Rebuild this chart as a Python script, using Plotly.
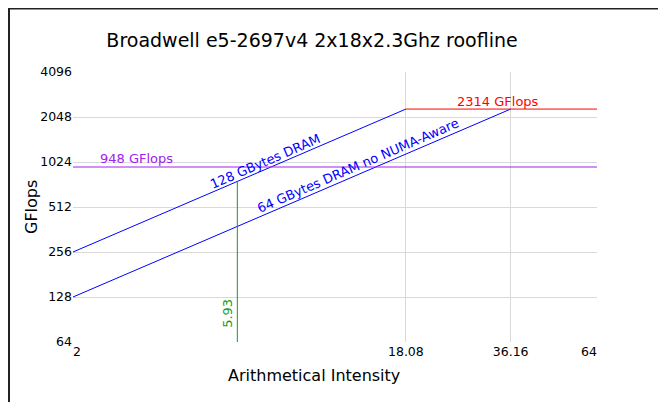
import math
import plotly.graph_objects as go

# ---- data ----
NB = "\u00a0"
x_ticks = [2, 18.08, 36.16, 64]
x_tick_labels = [NB * 2 + "2", "18.08", "36.16", "64" + NB * 4]
y_ticks = [64, 128, 256, 512, 1024, 2048, 4096]
y_tick_labels = ["64", "128", "256", "512", "1024", "2048", "4096"]

peak_gflops = 2314
simd_gflops = 948
bw_numa = 128          # GBytes/s DRAM
bw_no_numa = 64        # GBytes/s DRAM no NUMA-aware
ridge_numa = 18.08
ridge_no_numa = 36.16
ai_point = 5.93
ai_min, ai_max = 2, 64
gf_min, gf_max = 64, 4096

# page has an 8px body margin; figure coordinates = page coordinates - 8
OFF = 8
W, H = 658, 394
L, T = 73 - OFF, 72 - OFF
pw, ph = 524, 270
R, B = W - L - pw, H - T - ph

def px(xp):
    return (xp - OFF - L) / pw

def py(yp):
    return 1 - (yp - OFF - T) / ph

GREEN = "#169a16"
PURPLE = "#a020f0"

fig = go.Figure()
fig.add_trace(go.Scatter(x=[ai_min, ridge_numa], y=[bw_numa * ai_min, bw_numa * ridge_numa],
                         mode="lines", line=dict(color="blue", width=1), hoverinfo="skip"))
fig.add_trace(go.Scatter(x=[ai_min, ridge_no_numa], y=[bw_no_numa * ai_min, bw_no_numa * ridge_no_numa],
                         mode="lines", line=dict(color="blue", width=1), hoverinfo="skip"))
fig.add_trace(go.Scatter(x=[ridge_numa, ai_max], y=[peak_gflops, peak_gflops],
                         mode="lines", line=dict(color="red", width=1), hoverinfo="skip"))
fig.add_trace(go.Scatter(x=[ai_min, ai_max], y=[simd_gflops, simd_gflops],
                         mode="lines", line=dict(color=PURPLE, width=1), hoverinfo="skip"))
fig.add_trace(go.Scatter(x=[ai_point, ai_point], y=[gf_min, bw_numa * ai_point],
                         mode="lines", line=dict(color=GREEN, width=1), hoverinfo="skip"))

lx = math.log10
font = "DejaVu Sans"
ann = [
    dict(x=lx(2.36), y=lx(simd_gflops), text="948 GFlops", font=dict(color=PURPLE, size=13),
         xanchor="left", yanchor="bottom", yshift=-1),
    dict(x=lx(33.3), y=lx(peak_gflops), text="2314 GFlops", font=dict(color="red", size=13),
         xanchor="center", yanchor="bottom", yshift=-2),
    dict(x=lx(7.26), y=lx(bw_numa * 7.26), text="128 GBytes DRAM", font=dict(color="blue", size=13),
         textangle=-23.4, xanchor="center", yanchor="middle", xshift=-3, yshift=7),
    dict(x=lx(13.44), y=lx(bw_no_numa * 13.44), text="64 GBytes DRAM no NUMA-Aware", font=dict(color="blue", size=13),
         textangle=-23.4, xanchor="center", yanchor="middle", xshift=-3, yshift=8),
    dict(x=lx(ai_point), y=lx(100), text="5.93", font=dict(color=GREEN, size=13),
         textangle=-90, xanchor="right", yanchor="middle", xshift=-1),
]
for a in ann:
    a.update(xref="x", yref="y", showarrow=False)
    fig.add_annotation(**a)

fig.add_annotation(xref="paper", yref="paper", x=px(314), y=py(375), text="Arithmetical Intensity",
                   showarrow=False, font=dict(size=16, color="black"), xanchor="center", yanchor="middle")
fig.add_annotation(xref="paper", yref="paper", x=px(31), y=py(207), text="GFlops", textangle=-90,
                   showarrow=False, font=dict(size=16, color="black"), xanchor="center", yanchor="middle")

fig.add_shape(type="rect", xref="paper", yref="paper", x0=px(9), x1=px(660.5), y0=py(430), y1=py(8.5),
              line=dict(color="#222", width=2), fillcolor="rgba(0,0,0,0)", layer="below")

fig.update_layout(
    width=W, height=H,
    margin=dict(l=L, r=R, t=T, b=B),
    paper_bgcolor="white", plot_bgcolor="white",
    showlegend=False,
    font=dict(family=font, color="black", size=12.5),
    title=dict(text="Broadwell e5-2697v4 2x18x2.3Ghz roofline", x=(312 - OFF) / W, xanchor="center",
               y=1 - (40 - OFF) / H, yanchor="middle", font=dict(size=19, color="black")),
    xaxis=dict(type="log", range=[lx(ai_min), lx(ai_max)], tickvals=x_ticks, ticktext=x_tick_labels,
               showgrid=True, gridcolor="#d9d9d9", gridwidth=1, zeroline=False, showline=False,
               ticks="", tickfont=dict(size=12.5, color="black")),
    yaxis=dict(type="log", range=[lx(gf_min), lx(gf_max)], tickvals=y_ticks, ticktext=y_tick_labels,
               showgrid=True, gridcolor="#d9d9d9", gridwidth=1, zeroline=False, showline=False,
               ticks="", tickfont=dict(size=12.5, color="black")),
)

fig.write_html("out.html")
